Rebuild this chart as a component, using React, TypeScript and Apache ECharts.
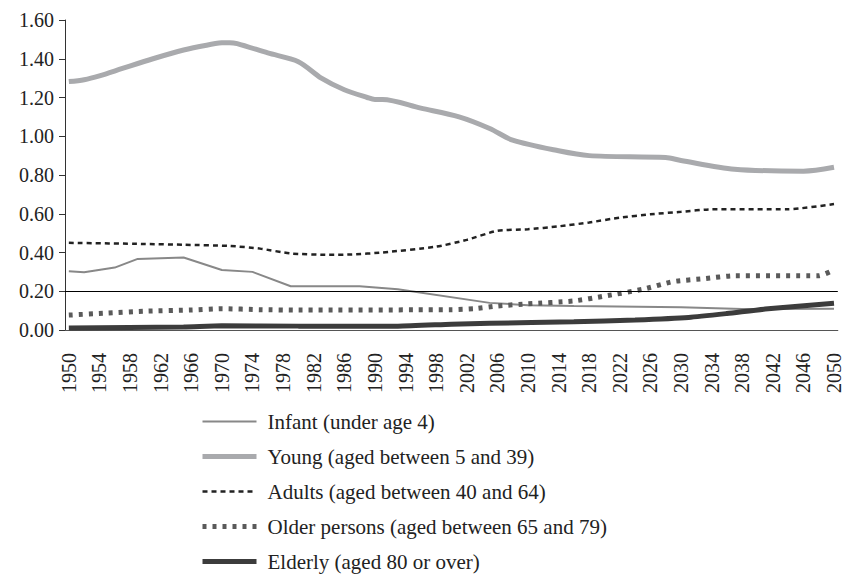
import React, { useEffect, useRef } from "react";
import * as echarts from "echarts";

const years: string[] = [];
for (let y = 1950; y <= 2050; y++) years.push(String(y));

const seriesNames = [
  "Infant (under age 4)",
  "Young (aged between 5 and 39)",
  "Adults (aged between 40 and 64)",
  "Older persons (aged between 65 and 79)",
  "Elderly (aged 80 or over)",
];

const infant: [string, number][] = [
  ["1950", 0.303], ["1952", 0.298], ["1956", 0.322], ["1959", 0.367], ["1965", 0.374],
  ["1970", 0.31], ["1974", 0.3], ["1979", 0.226], ["1988", 0.226], ["1993", 0.21],
  ["2005", 0.14], ["2010", 0.128], ["2016", 0.124], ["2030", 0.118], ["2038", 0.108], ["2050", 0.11],
];

const young: [string, number][] = [
  ["1950", 1.282], ["1952", 1.292], ["1954", 1.312], ["1957", 1.35], ["1961", 1.4],
  ["1965", 1.445], ["1968", 1.47], ["1970", 1.482], ["1971", 1.483], ["1972", 1.478],
  ["1976", 1.43], ["1980", 1.385], ["1983", 1.3], ["1986", 1.24], ["1989", 1.2],
  ["1990", 1.19], ["1991", 1.19], ["1996", 1.145], ["2001", 1.1], ["2005", 1.04],
  ["2008", 0.98], ["2014", 0.925], ["2018", 0.9], ["2028", 0.89], ["2030", 0.875],
  ["2037", 0.83], ["2046", 0.82], ["2050", 0.84],
];

const adults: [string, number][] = [
  ["1950", 0.45], ["1960", 0.444], ["1965", 0.44], ["1971", 0.434], ["1975", 0.42],
  ["1979", 0.395], ["1984", 0.388], ["1987", 0.39], ["1991", 0.4], ["1998", 0.43],
  ["2002", 0.465], ["2006", 0.512], ["2010", 0.52], ["2014", 0.535], ["2018", 0.555],
  ["2022", 0.58], ["2026", 0.597], ["2030", 0.61], ["2034", 0.623], ["2044", 0.623], ["2050", 0.65],
];

const older: [string, number][] = [
  ["1950", 0.077], ["1955", 0.087], ["1960", 0.097], ["1966", 0.103], ["1970", 0.11],
  ["1975", 0.105], ["1980", 0.103], ["2000", 0.105], ["2003", 0.11], ["2006", 0.124],
  ["2010", 0.135], ["2016", 0.15], ["2020", 0.175], ["2025", 0.21], ["2029", 0.25],
  ["2033", 0.265], ["2037", 0.28], ["2048", 0.28], ["2050", 0.31],
];

const elderly: [string, number][] = [
  ["1950", 0.01], ["1965", 0.016], ["1970", 0.022], ["1980", 0.02], ["1993", 0.02],
  ["2000", 0.03], ["2005", 0.035], ["2016", 0.042], ["2024", 0.052], ["2031", 0.065],
  ["2036", 0.085], ["2041", 0.108], ["2050", 0.138],
];

const referenceLevel = 0.2;

const FONT = "'Liberation Serif', 'Times New Roman', serif";

export default function App() {
  const ref = useRef<HTMLDivElement>(null);
  useEffect(() => {
    if (!ref.current) return;
    const chart = echarts.init(ref.current, null, { renderer: "svg" });
    chart.setOption({
      animation: false,
      backgroundColor: "#fff",
      textStyle: { fontFamily: FONT },
      grid: { left: 65, right: 6, top: 20, bottom: 244, containLabel: false },
      legend: {
        orient: "vertical",
        left: 200,
        top: 411,
        height: 220,
        padding: 0,
        itemWidth: 54,
        itemHeight: 14,
        itemGap: 14,
        itemStyle: { opacity: 0 },
        lineStyle: { width: "inherit" },
        textStyle: {
          fontFamily: FONT,
          fontSize: 21,
          color: "#222",
          padding: [0, 0, 0, 6],
        },
        data: seriesNames,
      },
      xAxis: {
        type: "category",
        data: years,
        boundaryGap: true,
        axisLine: { lineStyle: { color: "#555", width: 1 } },
        axisTick: { interval: 0, length: 5, lineStyle: { color: "#555" } },
        axisLabel: {
          interval: 3,
          rotate: 90,
          margin: 23,
          fontFamily: FONT,
          fontSize: 20,
          color: "#222",
        },
        splitLine: { show: false },
      },
      yAxis: {
        type: "value",
        min: 0,
        max: 1.6,
        interval: 0.2,
        axisLine: { show: true, lineStyle: { color: "#333", width: 1 } },
        axisTick: { show: true, length: 6, lineStyle: { color: "#333" } },
        axisLabel: {
          formatter: (v: number) => v.toFixed(2),
          fontFamily: FONT,
          fontSize: 20,
          color: "#222",
          margin: 11,
        },
        splitLine: { show: false },
      },
      series: [
        {
          name: seriesNames[0],
          type: "line",
          data: infant,
          symbol: "none",
          z: 3,
          lineStyle: { color: "#888888", width: 2 },
          itemStyle: { color: "#888888" },
          markLine: {
            silent: true,
            symbol: "none",
            label: { show: false },
            lineStyle: { color: "#000", width: 1, type: "solid" },
            data: [{ yAxis: referenceLevel }],
          },
        },
        {
          name: seriesNames[1],
          type: "line",
          data: young,
          symbol: "none",
          smooth: 0.3,
          lineStyle: { color: "#a9aaad", width: 5 },
          itemStyle: { color: "#a9aaad" },
        },
        {
          name: seriesNames[2],
          type: "line",
          data: adults,
          symbol: "none",
          smooth: 0.2,
          lineStyle: { color: "#222222", width: 2.5, type: [5, 4] },
          itemStyle: { color: "#222222" },
        },
        {
          name: seriesNames[3],
          type: "line",
          data: older,
          symbol: "none",
          smooth: 0.2,
          lineStyle: { color: "#5a5a5a", width: 5, type: [4, 6], cap: "butt" },
          itemStyle: { color: "#5a5a5a" },
        },
        {
          name: seriesNames[4],
          type: "line",
          data: elderly,
          symbol: "none",
          smooth: 0.2,
          lineStyle: { color: "#3c3c3c", width: 5 },
          itemStyle: { color: "#3c3c3c" },
        },
      ],
    });
    return () => chart.dispose();
  }, []);
  return (
    <div
      ref={ref}
      style={{ position: "fixed", left: 0, top: 0, width: 844, height: 574, background: "#fff" }}
    />
  );
}
